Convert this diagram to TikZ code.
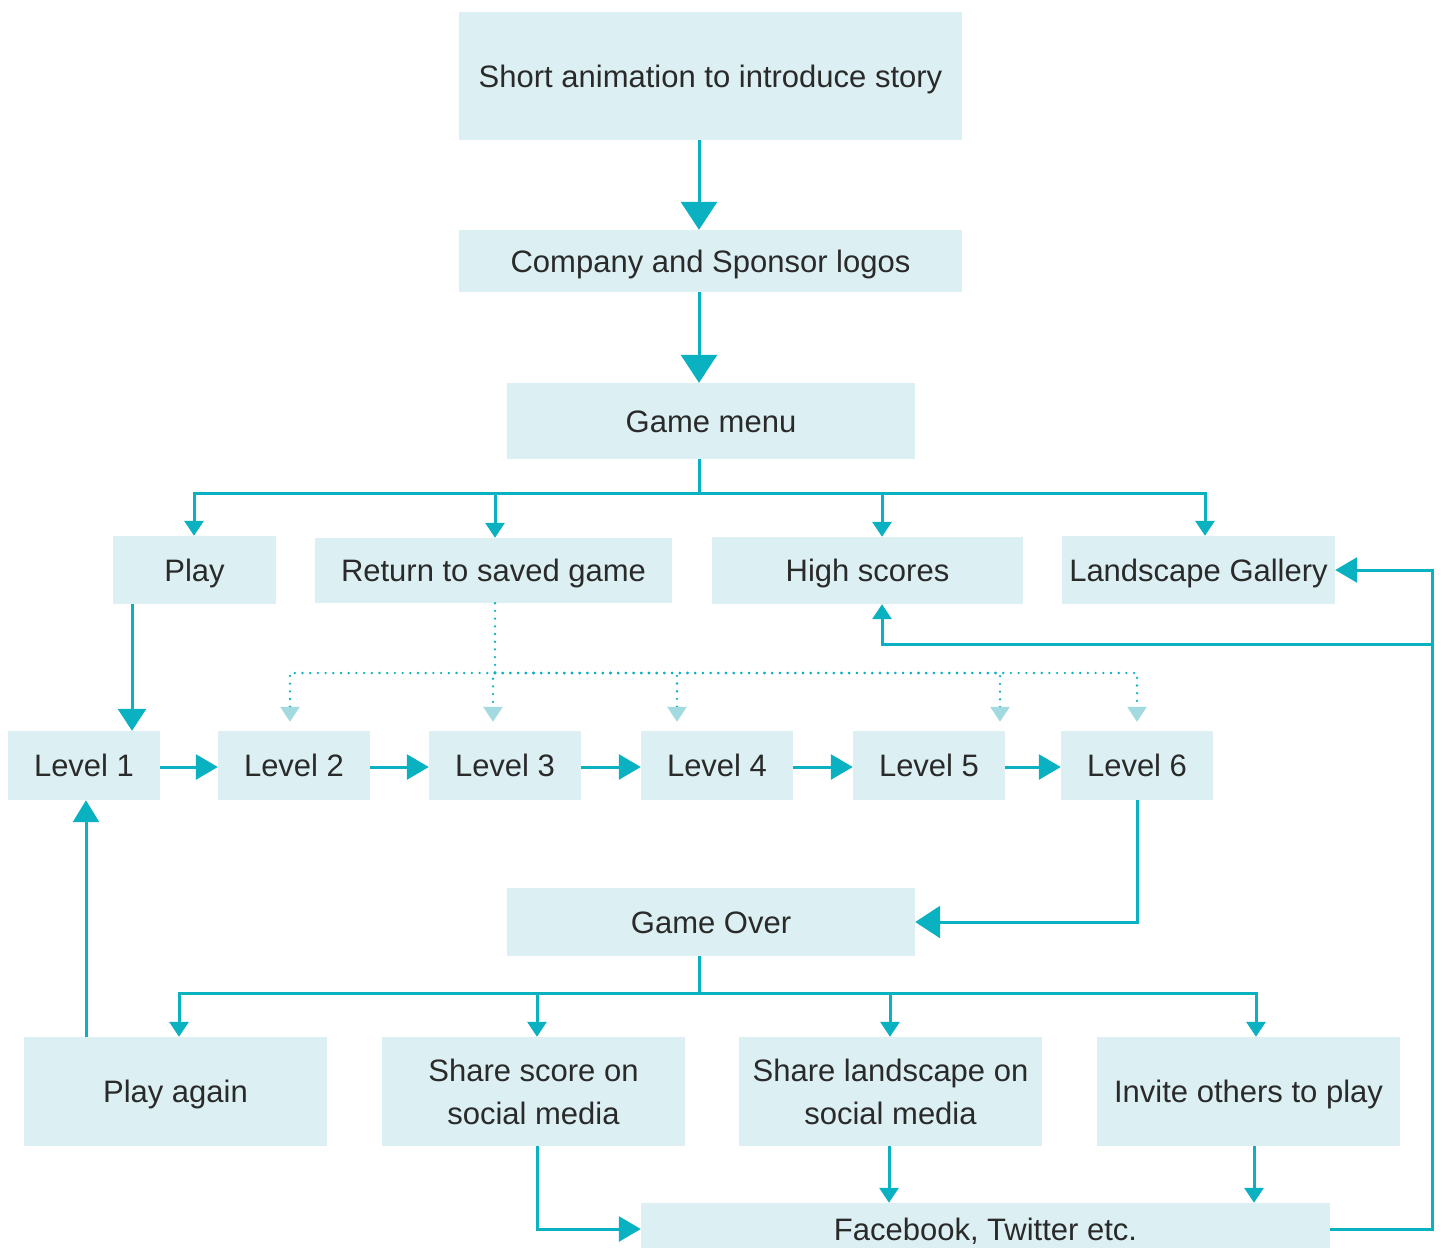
\documentclass[tikz,border=0pt]{standalone}
\usepackage{fontspec}
\setmainfont{Liberation Sans}
\usetikzlibrary{arrows.meta}
\definecolor{teal1}{HTML}{0AB2C1}
\definecolor{boxf}{HTML}{DCF0F3}
\definecolor{txt}{HTML}{2A2A2A}
\definecolor{tipl}{HTML}{A2DADF}
\tikzset{
  box/.style={fill=boxf, draw=none, inner sep=0pt, text=txt, align=center,
    font=\fontsize{31}{43}\selectfont},
  oneline/.style={box, text height=22pt, text depth=0pt},
  conn/.style={draw=teal1, line width=3pt},
  bigtip/.style={conn, -{Triangle[length=28,width=36]}},
  midtip/.style={conn, -{Triangle[length=22,width=25]}},
  smalltip/.style={conn, -{Triangle[length=15,width=19]}},
  dotline/.style={draw=teal1, line width=2.6pt, line cap=round, dash pattern=on 0pt off 7.7pt},
  dottip/.style={dotline, -{Triangle[length=15,width=19,color=tipl]}},
}
\begin{document}
\begin{tikzpicture}[x=1pt,y=-1pt]
\useasboundingbox (0,0) rectangle (1444,1248);
% nodes
\node[oneline, minimum width=503, minimum height=128] (short) at (710.5,76) {Short animation to introduce story};
\node[oneline, minimum width=503, minimum height=62] (comp) at (710.5,261) {Company and Sponsor logos};
\node[oneline, minimum width=408, minimum height=76] (menu) at (711,421) {Game menu};
\node[oneline, minimum width=163, minimum height=68] (play) at (194.5,570) {Play};
\node[oneline, minimum width=357, minimum height=65] (ret) at (493.5,570.5) {Return to saved game};
\node[oneline, minimum width=311, minimum height=67] (high) at (867.5,570.5) {High scores};
\node[oneline, minimum width=273, minimum height=68] (land) at (1198.5,570) {Landscape Gallery};
\node[oneline, minimum width=152, minimum height=69] (l1) at (84,765.5) {Level 1};
\node[oneline, minimum width=152, minimum height=69] (l2) at (294,765.5) {Level 2};
\node[oneline, minimum width=152, minimum height=69] (l3) at (505,765.5) {Level 3};
\node[oneline, minimum width=152, minimum height=69] (l4) at (717,765.5) {Level 4};
\node[oneline, minimum width=152, minimum height=69] (l5) at (929,765.5) {Level 5};
\node[oneline, minimum width=152, minimum height=69] (l6) at (1137,765.5) {Level 6};
\node[oneline, minimum width=408, minimum height=68] (go) at (711,922) {Game Over};
\node[oneline, minimum width=303, minimum height=109] (pa) at (175.5,1091.5) {Play again};
\node[box, minimum width=303, minimum height=109] (ss) at (533.5,1091.5) {Share score on\\social media};
\node[box, minimum width=303, minimum height=109] (sl) at (890.5,1091.5) {Share landscape on\\social media};
\node[oneline, minimum width=303, minimum height=109] (inv) at (1248.5,1091.5) {Invite others to play};
\node[oneline, minimum width=689, minimum height=52] (fb) at (985.5,1229) {Facebook, Twitter etc.};
% junction coordinates
\coordinate (mb) at (699,493);
\coordinate (dj) at (495,673);
\coordinate (gb) at (699,993);
\coordinate (rc) at (1432,644);
% top chain
\draw[bigtip] ([xshift=-11.5]short.south) -- ([xshift=-11.5]comp.north);
\draw[bigtip] ([xshift=-11.5]comp.south) -- ([xshift=-12]menu.north);
% menu branches
\draw[conn] ([xshift=-12]menu.south) -- (mb);
\draw[smalltip] (mb) -| ([xshift=-0.5]play.north);
\draw[smalltip] (mb) -| ([xshift=1.5]ret.north);
\draw[smalltip] (mb) -| ([xshift=14.5]high.north);
\draw[smalltip] (mb) -| ([xshift=6.5]land.north);
% play to level 1
\draw[conn, -{Triangle[length=22,width=28]}] ([xshift=-62.5]play.south) -- ([xshift=-62.5]play.south |- l1.north);
% dotted from saved game
\draw[dotline] ([xshift=1.5]ret.south) -- (dj);
\draw[dottip] (dj) -| ([xshift=-4,yshift=9]l2.north);
\draw[dottip] (dj) -| ([xshift=-12,yshift=9]l3.north);
\draw[dottip] (dj) -| ([xshift=-40,yshift=9]l4.north);
\draw[dottip] (dj) -| ([xshift=71,yshift=9]l5.north);
\draw[dottip] (dj) -| ([yshift=9]l6.north);
% level chain
\draw[midtip] ([yshift=-1.5]l1.east) -- ([yshift=-1.5]l2.west);
\draw[midtip] ([yshift=-1.5]l2.east) -- ([yshift=-1.5]l3.west);
\draw[midtip] ([yshift=-1.5]l3.east) -- ([yshift=-1.5]l4.west);
\draw[midtip] ([yshift=-1.5]l4.east) -- ([yshift=-1.5]l5.west);
\draw[midtip] ([yshift=-1.5]l5.east) -- ([yshift=-1.5]l6.west);
% level 6 to game over
\draw[conn, -{Triangle[length=25,width=32]}] (l6.south) |- (go.east);
% game over branches
\draw[conn] ([xshift=-12]go.south) -- (gb);
\draw[smalltip] (gb) -| ([xshift=3.5]pa.north);
\draw[smalltip] (gb) -| ([xshift=3.5]ss.north);
\draw[smalltip] (gb) -| ([xshift=-0.5]sl.north);
\draw[smalltip] (gb) -| ([xshift=7.5]inv.north);
% play again to level 1
\draw[conn, -{Triangle[length=22,width=26]}] ([xshift=-89.5]pa.north) -- ([xshift=-89.5]pa.north |- l1.south);
% to facebook
\draw[midtip] ([xshift=3.5]ss.south) |- (fb.west);
\draw[smalltip] ([xshift=-1.5]sl.south) -- ([xshift=-1.5]sl.south |- fb.north);
\draw[smalltip] ([xshift=5.5]inv.south) -- ([xshift=5.5]inv.south |- fb.north);
% facebook back up
\draw[midtip] (fb.east) -- (fb.east -| rc) -- (rc |- land.east) -- (land.east);
\draw[smalltip] (rc) -| ([xshift=14.5]high.south);
\end{tikzpicture}
\end{document}
